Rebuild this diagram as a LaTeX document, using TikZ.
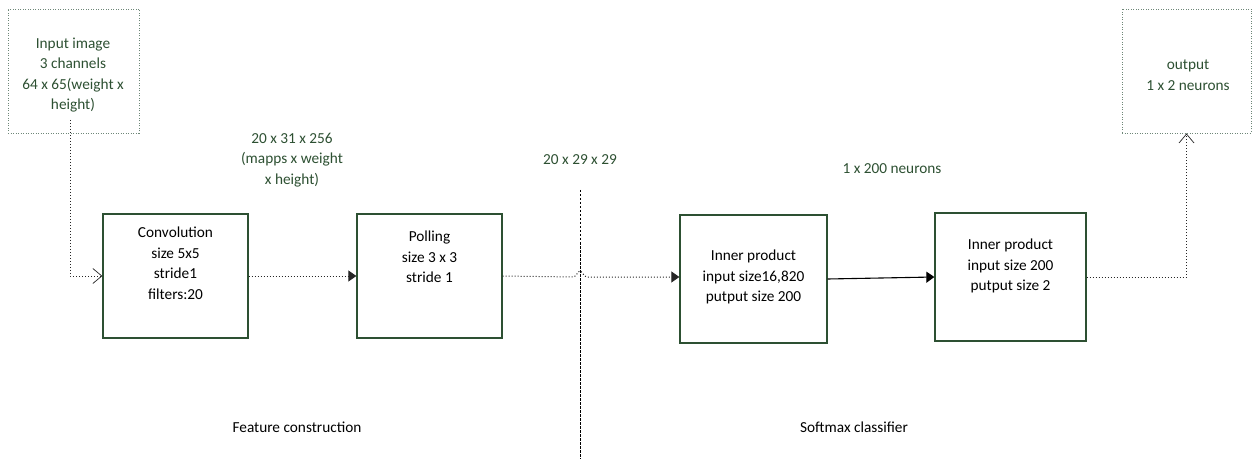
\documentclass[tikz,border=0pt]{standalone}
\usepackage{xcolor}
\usepackage{fontspec}
\setmainfont{Carlito}
\usepackage{tikz}
\usetikzlibrary{arrows.meta}
\definecolor{cnngreen}{RGB}{45,80,50}
\definecolor{cnndot}{RGB}{110,135,120}

\begin{document}
\begin{tikzpicture}[x=1pt, y=1pt, font=\fontsize{15.3}{20.5}\selectfont]
    \tikzstyle{layer} = [rectangle, draw=cnngreen, line width=1.3pt, inner sep=0pt]
    \tikzstyle{iobox} = [rectangle, draw=cnndot, line width=0.9pt, dash pattern=on 1pt off 1.5pt, inner sep=0pt]
    \tikzstyle{txt} = [align=center, inner sep=0pt]
    \tikzstyle{dims} = [align=center, inner sep=0pt, text=cnngreen]
    \tikzstyle{flow} = [line width=1pt, black!85, dash pattern=on 1pt off 2pt]
    \tikzstyle{fill tip} = [-{Triangle[length=8pt,width=11pt]}]
    \tikzstyle{open tip} = [-{Straight Barb[length=9pt,width=15pt,line width=0.7pt]}]

    \useasboundingbox (0,0) rectangle (1252,461);

    % input and output
    \node (inbox) [iobox, minimum width=131pt, minimum height=124pt] at (73.5,390) {};
    \node (intxt) [dims] at (73,386) {Input image\\3 channels\\64 x 65(weight x\\height)};
    \node (outbox) [iobox, minimum width=129pt, minimum height=124pt] at (1186.5,390) {};
    \node (outtxt) [dims] at (1188,386) {output\\1 x 2 neurons};

    % layers
    \node (conv) [layer, minimum width=145pt, minimum height=124pt] at (175.5,185) {};
    \node (convtxt) [txt] at (175.5,198) {Convolution\\size 5x5\\stride1\\filters:20};
    \node (pool) [layer, minimum width=145pt, minimum height=124pt] at (429.5,185) {};
    \node (pooltxt) [txt] at (429.5,204) {Polling\\size 3 x 3\\stride 1};
    \node (ipa) [layer, minimum width=147pt, minimum height=128pt] at (753.5,182) {};
    \node (ipatxt) [txt] at (753.5,184) {Inner product\\input size16,820\\putput size 200};
    \node (ipb) [layer, minimum width=151pt, minimum height=128pt] at (1010.5,184) {};
    \node (ipbtxt) [txt] at (1010.5,195) {Inner product\\input size 200\\putput size 2};

    % sizes
    \node (dimconv) [dims] at (292,301) {20 x 31 x 256\\(mapps x weight\\x height)};
    \node (dimpool) [dims] at (580,301) {20 x 29 x 29};
    \node (dimipa) [dims] at (892,292) {1 x 200 neurons};

    % split
    \coordinate (septop) at (580,271);
    \coordinate (sepbot) at (580,2);
    \draw [line width=0.8pt, dash pattern=on 2.5pt off 1.5pt] (septop) -- (sepbot);
    \node (featlbl) [txt] at (297,34) {Feature construction};
    \node (softlbl) [txt] at (854,34) {Softmax classifier};

    % connectors
    \coordinate (instart) at (70,341);
    \coordinate (hop) at (580,184);
    \draw [flow, open tip] (instart) |- (conv.west);
    \draw [flow, fill tip] (conv.east) -- (pool.west);
    \draw [flow, fill tip] (pool.east) -- ([xshift=-7pt]hop)
        .. controls ([xshift=-4pt]hop) and ([xshift=-2pt, yshift=6pt]hop) .. ([yshift=6pt]hop)
        .. controls ([xshift=2pt, yshift=6pt]hop) and ([xshift=4pt]hop) .. ([xshift=7pt]hop)
        -- (ipa.west |- hop);
    \draw [line width=1.1pt, fill tip] (ipa.east) -- (ipb.west);
    \draw [flow, open tip] (ipb.east) -| (outbox.south);
\end{tikzpicture}
\end{document}
